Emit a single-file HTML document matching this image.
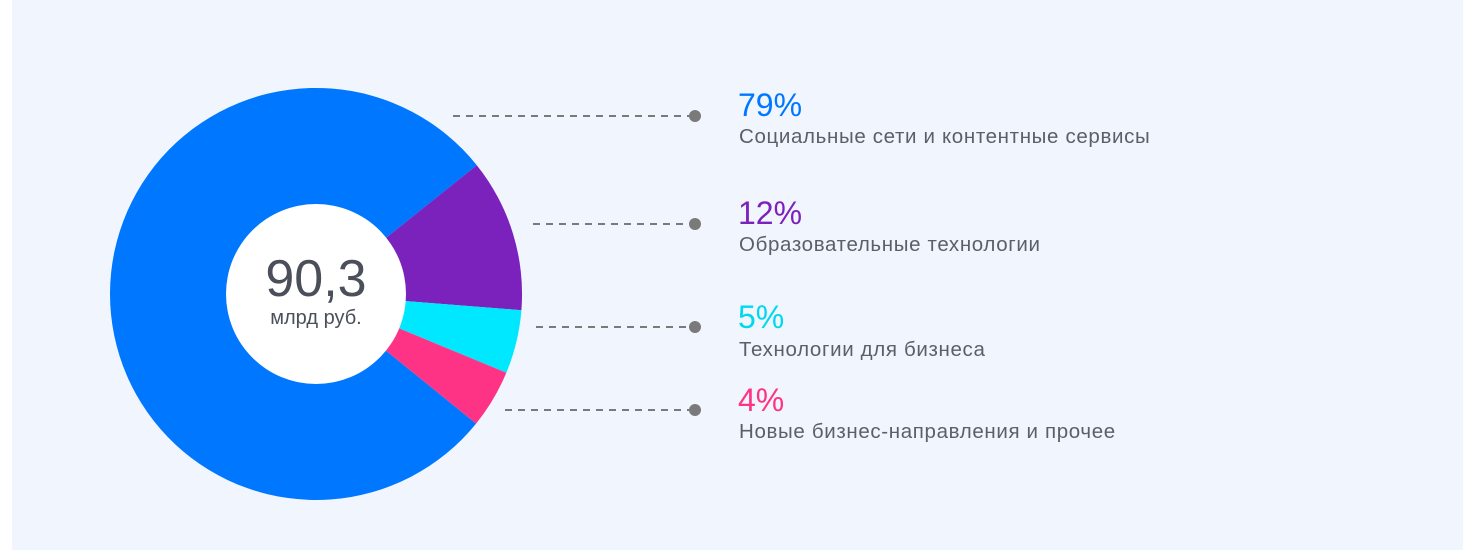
<!DOCTYPE html>
<html><head><meta charset="utf-8"><style>
html,body{margin:0;padding:0;background:#fff;}
body{width:1463px;height:550px;position:relative;overflow:hidden;font-family:"Liberation Sans",sans-serif;}
.panel{position:absolute;left:12px;top:0;width:1451px;height:550px;background:#f1f6fe;}
.p{position:absolute;left:738px;font-size:32px;line-height:1;}
.l{position:absolute;left:739px;font-size:20.5px;color:#5a5f69;line-height:1;letter-spacing:0.65px}
</style></head><body>
<div class="panel"></div>
<svg width="1463" height="550" style="position:absolute;left:0;top:0">
<path d="M316,294 L476.1,423.6 A206,206 0 1,1 476.8,165.2 Z" fill="#0077ff"/>
<path d="M316,294 L476.8,165.2 A206,206 0 0,1 521.4,310.2 Z" fill="#7b22bd"/>
<path d="M316,294 L521.4,310.2 A206,206 0 0,1 506.3,372.8 Z" fill="#00e8ff"/>
<path d="M316,294 L506.3,372.8 A206,206 0 0,1 476.1,423.6 Z" fill="#ff3385"/>
<circle cx="316" cy="294" r="90" fill="#fff"/>
<text x="316" y="296" text-anchor="middle" font-family="Liberation Sans" font-size="52" fill="#4a4f59">90,3</text>
<text x="316" y="324" text-anchor="middle" font-family="Liberation Sans" font-size="20" fill="#4a4f59">млрд руб.</text>
<g stroke="#7a7a7a" stroke-width="2" stroke-dasharray="7,6">
<line x1="453" y1="116" x2="694" y2="116"/>
<line x1="533" y1="224" x2="694" y2="224"/>
<line x1="536" y1="327" x2="694" y2="327"/>
<line x1="505" y1="410" x2="694" y2="410"/>
</g>
<g fill="#7a7a7a"><circle cx="695" cy="116" r="6"/><circle cx="695" cy="224" r="6"/><circle cx="695" cy="327" r="6"/><circle cx="695" cy="410" r="6"/></g>
</svg>
<div class="p" style="top:89px;color:#0077ff">79%</div>
<div class="l" style="top:127px">Социальные сети и контентные сервисы</div>
<div class="p" style="top:197px;color:#7b22bd">12%</div>
<div class="l" style="top:235px">Образовательные технологии</div>
<div class="p" style="top:301px;color:#00d8f0">5%</div>
<div class="l" style="top:340px">Технологии для бизнеса</div>
<div class="p" style="top:384px;color:#ff3385">4%</div>
<div class="l" style="top:422px">Новые бизнес-направления и прочее</div>
</body></html>
